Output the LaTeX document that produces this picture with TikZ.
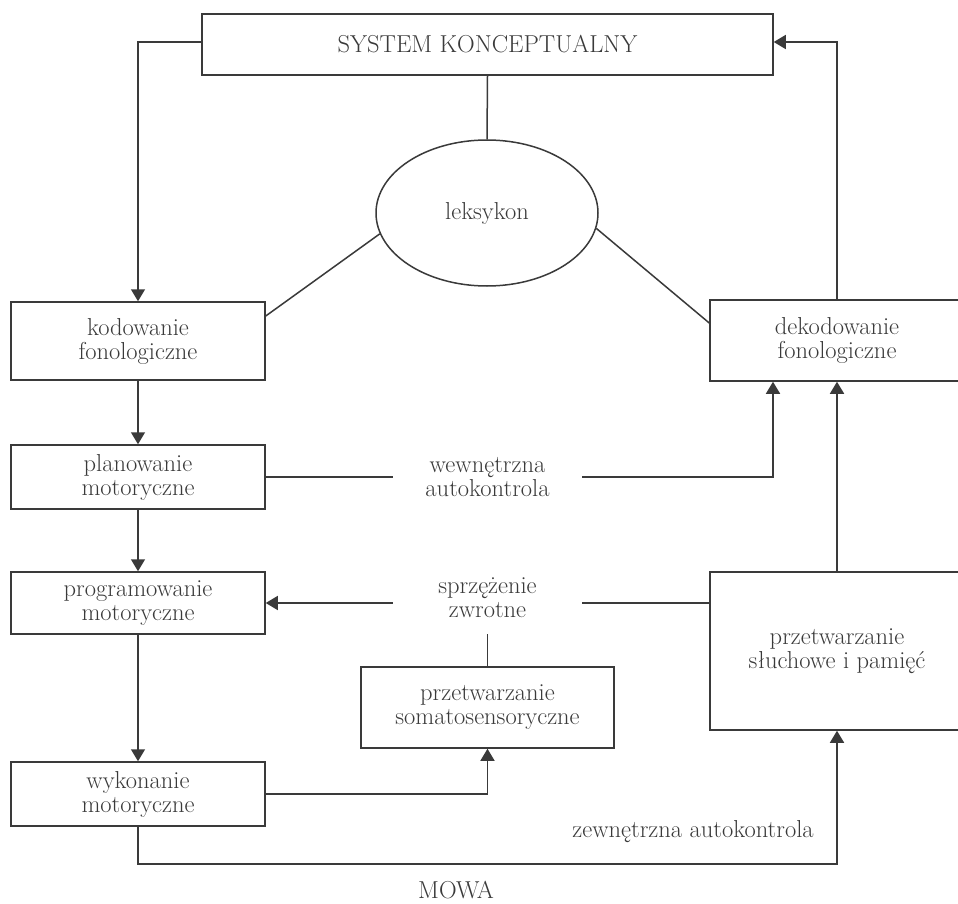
\documentclass[tikz,border=0pt]{standalone}
\usetikzlibrary{arrows.meta,shapes.geometric}
\definecolor{ink}{HTML}{3A3A3A}
\tikzset{
  every node/.style={text=ink, font=\fontsize{24.5}{24}\selectfont, align=center},
  box/.style={draw=ink, line width=1.5pt, rectangle, inner sep=0pt},
  lbl/.style={inner sep=0pt},
  conn/.style={draw=ink, line width=1.5pt},
  arr/.style={conn, -{Triangle[width=14pt,length=12pt]}}
}
\begin{document}
\begin{tikzpicture}[x=1pt,y=-1pt]
\useasboundingbox (0,0) rectangle (958,904);
\fill[white] (0,0) rectangle (958,904);
\node[box, minimum width=571pt, minimum height=61pt] (sys) at (487.5,44.5) {SYSTEM KONCEPTUALNY};
\node[draw=ink, line width=1.5pt, ellipse, minimum width=222pt, minimum height=146pt, inner sep=0pt] (lex) at (487,213) {leksykon};
\node[box, minimum width=254pt, minimum height=78pt] (kod) at (138,341) {kodowanie\\fonologiczne};
\node[box, minimum width=254pt, minimum height=64pt] (plan) at (138,477) {planowanie\\motoryczne};
\node[box, minimum width=254pt, minimum height=62pt] (prog) at (138,603) {programowanie\\motoryczne};
\node[box, minimum width=254pt, minimum height=64pt] (wyk) at (138,794) {wykonanie\\motoryczne};
\node[box, minimum width=253pt, minimum height=81pt] (soma) at (487.5,707.5) {przetwarzanie\\somatosensoryczne};
\node[box, minimum width=254pt, minimum height=81pt] (dek) at (837,340.5) {dekodowanie\\fonologiczne};
\node[box, minimum width=254pt, minimum height=158pt] (slu) at (837,651) {przetwarzanie\\słuchowe i pamięć};
\node[lbl, minimum width=189pt] (wew) at (487.5,477) {wewnętrzna\\autokontrola};
\node[lbl, minimum width=189pt, minimum height=72pt] (spr) at (487.5,598) {sprzężenie\\zwrotne};
\node[lbl] (zew) at (693,832) {zewnętrzna autokontrola};
\node[lbl] (mowa) at (456,890) {MOWA};

\draw[arr] ([yshift=2.5pt]sys.west) -| (kod.north);
\draw[arr] (dek.north) |- ([yshift=2.5pt]sys.east);
\draw[conn] (sys.south) -- (lex.north);
\draw[conn] (lex.191) -- ([yshift=25pt]kod.east);
\draw[conn] (lex.352) -- ([yshift=17.5pt]dek.west);
\draw[arr] (kod.south) -- (plan.north);
\draw[conn] (plan.east) -- (wew.west);
\draw[arr] (wew.east) -| ([xshift=-64pt]dek.south);
\draw[arr] (slu.north) -- (dek.south);
\draw[arr] (plan.south) -- (prog.north);
\draw[arr] (spr.west |- prog.east) -- (prog.east);
\draw[conn] (spr.east |- prog.east) -- (slu.west |- prog.east);
\draw[conn] (spr.south) -- (soma.north);
\draw[arr] (prog.south) -- (wyk.north);
\draw[arr] (wyk.east) -| (soma.south);
\draw[arr] (wyk.south) -- ++(0,37) -| (slu.south);
\end{tikzpicture}
\end{document}
